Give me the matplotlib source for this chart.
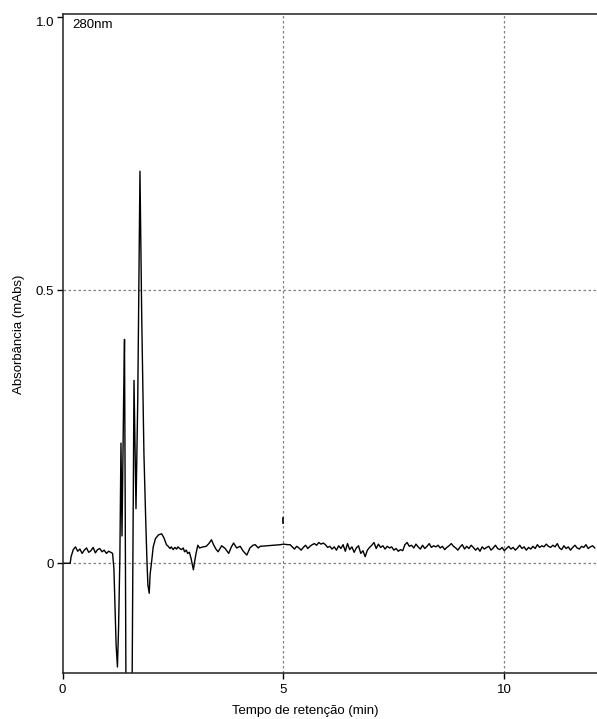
import numpy as np
import matplotlib.pyplot as plt

plt.rcParams['font.family'] = ['Liberation Sans', 'DejaVu Sans']

# detector wavelength and axis labels
wavelength = "280nm"
x_label = "Tempo de retenção (min)"
y_label = "Absorbância (mAbs)"
x_ticks = [0, 5, 10]
y_ticks = [0, 0.5, 1.0]
y_tick_labels = ["0", "0.5", "1.0"]

# start of the run: flat line, early baseline and the solvent-front peaks
start_t = [0.00, 0.17, 0.19, 0.24, 0.29, 0.34, 0.39, 0.44, 0.49, 0.54, 0.59,
           0.64, 0.69, 0.74, 0.79, 0.84, 0.89, 0.94, 0.99, 1.04, 1.09, 1.13]
start_v = [0.000, 0.000, 0.012, 0.025, 0.030, 0.022, 0.026, 0.018, 0.024, 0.028,
           0.020, 0.023, 0.029, 0.019, 0.025, 0.027, 0.021, 0.024, 0.018, 0.022,
           0.020, 0.018]

peak_t = [1.16, 1.19, 1.21, 1.24, 1.265, 1.295, 1.32, 1.343, 1.38, 1.40,
          1.434, 1.57, 1.615, 1.66, 1.70, 1.75, 1.79, 1.84, 1.88, 1.91,
          1.93, 1.96, 1.98, 2.01, 2.05, 2.10, 2.17, 2.24, 2.29, 2.35,
          2.39, 2.43, 2.46, 2.50, 2.54, 2.58, 2.61, 2.65, 2.69, 2.73,
          2.76, 2.80, 2.83, 2.87, 2.91, 2.96, 2.99, 3.02, 3.06, 3.10,
          3.18, 3.25, 3.31, 3.37, 3.41, 3.47, 3.52, 3.60, 3.68, 3.76,
          3.82, 3.87, 3.94, 4.02, 4.09, 4.17, 4.24, 4.31, 4.36, 4.43,
          4.47, 4.93, 5.00, 5.10]
peak_v = [-0.010, -0.090, -0.150, -0.190, -0.120, 0.010, 0.220, 0.050, 0.300, 0.410,
          -0.250, -0.250, 0.335, 0.100, 0.300, 0.718, 0.450, 0.200, 0.080, 0.000,
          -0.040, -0.055, -0.020, 0.000, 0.030, 0.045, 0.052, 0.054, 0.047, 0.034,
          0.031, 0.027, 0.030, 0.025, 0.029, 0.026, 0.030, 0.027, 0.025, 0.028,
          0.021, 0.024, 0.018, 0.020, 0.008, -0.012, 0.004, 0.018, 0.033, 0.028,
          0.030, 0.031, 0.036, 0.043, 0.035, 0.026, 0.021, 0.032, 0.027, 0.018,
          0.030, 0.037, 0.028, 0.031, 0.022, 0.015, 0.028, 0.033, 0.034, 0.028,
          0.031, 0.034, 0.035, 0.034]

# long baseline, sampled every 0.05 min from 5.15 min
noise_v = [0.034, 0.030, 0.026, 0.031, 0.028, 0.024, 0.029, 0.033, 0.027, 0.031,
           0.034, 0.036, 0.033, 0.038, 0.035, 0.037, 0.034, 0.029, 0.031, 0.026,
           0.030, 0.024, 0.032, 0.027, 0.034, 0.022, 0.036, 0.025, 0.030, 0.020,
           0.028, 0.032, 0.018, 0.023, 0.012, 0.024, 0.029, 0.033, 0.038, 0.027,
           0.035, 0.029, 0.032, 0.026, 0.031, 0.028, 0.030, 0.024, 0.027, 0.022,
           0.025, 0.023, 0.034, 0.038, 0.031, 0.033, 0.028, 0.035, 0.030, 0.026,
           0.033, 0.027, 0.031, 0.036, 0.029, 0.032, 0.030, 0.033, 0.028, 0.031,
           0.025, 0.029, 0.032, 0.036, 0.031, 0.028, 0.024, 0.030, 0.034, 0.026,
           0.031, 0.027, 0.033, 0.029, 0.024, 0.028, 0.022, 0.030, 0.026, 0.029,
           0.031, 0.024, 0.028, 0.033, 0.027, 0.025, 0.029, 0.023, 0.027, 0.031,
           0.026, 0.029, 0.024, 0.028, 0.033, 0.027, 0.030, 0.024, 0.029, 0.026,
           0.031, 0.027, 0.034, 0.029, 0.032, 0.030, 0.035, 0.031, 0.029, 0.033,
           0.030, 0.036, 0.028, 0.025, 0.032, 0.027, 0.030, 0.024, 0.029, 0.033,
           0.028, 0.026, 0.031, 0.029, 0.034, 0.027, 0.030, 0.032, 0.028]
noise_start = 5.15
noise_step = 0.05

# small event mark at 5 min
event_t = [5.0, 5.0]
event_v = [0.073, 0.082]

noise_t = noise_start + noise_step * np.arange(len(noise_v))
trace_t = np.concatenate([start_t, peak_t, noise_t])
trace_v = np.concatenate([start_v, peak_v, noise_v])

fig = plt.figure(figsize=(5.97, 7.19), dpi=100)
ax = fig.add_axes([0.105, 0.064, 0.895, 0.9165])

ax.plot(trace_t, trace_v, color='black', lw=1.0)
ax.plot(event_t, event_v, color='black', lw=1.2)

ax.set_xlim(0, 12.1)
ax.set_ylim(-0.201, 1.006)

ax.set_xticks(x_ticks)
ax.set_xticklabels([str(t) for t in x_ticks])
ax.set_yticks(y_ticks)
ax.set_yticklabels(y_tick_labels)
ax.tick_params(axis='both', direction='out', length=4, width=1, colors='black',
               labelsize=9.5, pad=2)
ax.tick_params(axis='x', pad=4)
ax.get_yticklabels()[-1].set_va('top')

# dotted grid only on the inner ticks
for xv in x_ticks[1:]:
    ax.axvline(xv, color='#808080', lw=0.9, ls=(0, (2, 2)), zorder=0)
for yv in y_ticks[:-1]:
    ax.axhline(yv, color='#808080', lw=0.9, ls=(0, (2, 2)), zorder=0)

ax.spines['right'].set_visible(False)
for side in ['left', 'bottom', 'top']:
    ax.spines[side].set_color('#222222')
    ax.spines[side].set_linewidth(1.1)

ax.text(0.018, 0.992, wavelength, transform=ax.transAxes, ha='left', va='top',
        fontsize=9.5)

fig.text(305 / 597, 1 - 711 / 719, x_label, ha='center', va='center', fontsize=9.5)
fig.text(19 / 597, 1 - 334 / 719, y_label, ha='center', va='center',
         rotation=90, fontsize=9.5)

fig.savefig("out.png", dpi=100)
